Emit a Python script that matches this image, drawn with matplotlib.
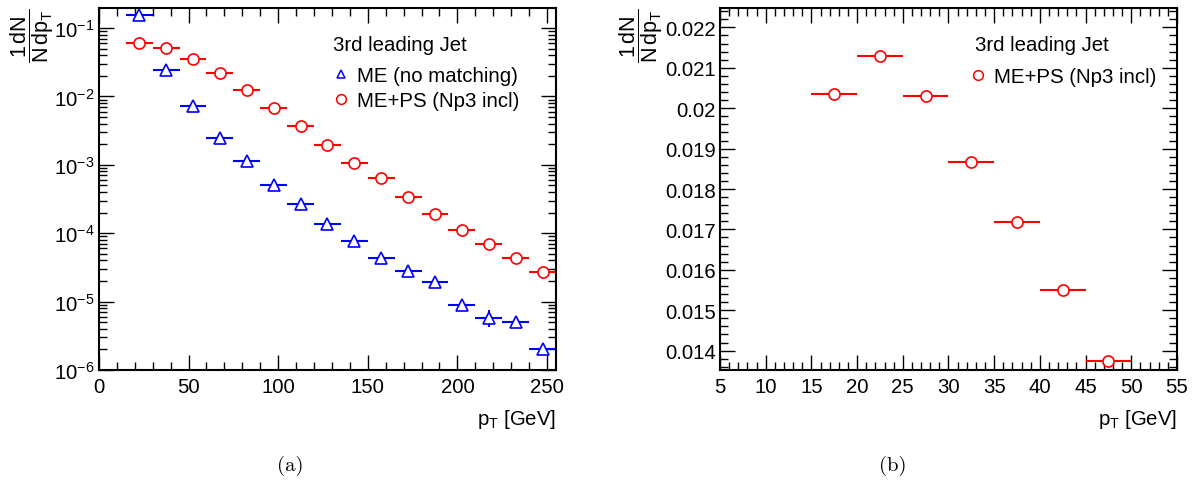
import numpy as np
import matplotlib.pyplot as plt
from matplotlib.lines import Line2D
from matplotlib.ticker import MultipleLocator, LogLocator, NullFormatter

plt.rcParams['font.family'] = ['Liberation Sans', 'DejaVu Sans']
plt.rcParams['mathtext.fontset'] = 'custom'
plt.rcParams['mathtext.rm'] = 'Liberation Sans'
plt.rcParams['mathtext.it'] = 'Liberation Sans'
plt.rcParams['mathtext.bf'] = 'Liberation Sans:bold'

# panel (a): 15 GeV bins from 15 to 255
pt_a = np.arange(22.5, 255, 15)
me = [0.155, 0.0246, 0.0072, 0.00248, 0.00113, 0.000499, 0.000263, 0.000138,
      7.7e-5, 4.35e-5, 2.77e-5, 1.94e-5, 8.95e-6, 5.83e-6, 5.05e-6, 2.06e-6]
me_err = [0.002, 0.0008, 0.0002, 6e-5, 3e-5, 1.5e-5, 1e-5, 6e-6,
          4e-6, 3e-6, 2.5e-6, 2e-6, 1.3e-6, 1.6e-6, 9e-7, 2e-7]
meps = [0.0604, 0.0505, 0.0352, 0.022, 0.0126, 0.0068, 0.00367, 0.00198,
        0.00107, 0.000646, 0.000341, 0.000193, 0.000112, 7.03e-5, 4.35e-5, 2.72e-5]
meps_err = [0.0005, 0.0004, 0.0003, 0.0002, 0.0001, 6e-5, 3e-5, 2e-5,
            1e-5, 7e-6, 4e-6, 3e-6, 2e-6, 1.5e-6, 1.2e-6, 2.5e-6]
bin_a = 7.5

# panel (b): 5 GeV bins from 15 to 50
pt_b = np.arange(17.5, 50, 5)
meps_b = [0.020345, 0.02128, 0.02030, 0.018665, 0.017186, 0.015506, 0.013737]
meps_b_err = [0.00002] * 7
bin_b = 2.5

fs = 14.7

fig = plt.figure(figsize=(12.01, 4.89), dpi=100)
ax1 = fig.add_axes([0.0824, 0.2413, 0.3805, 0.7403])
ax2 = fig.add_axes([0.5995, 0.2413, 0.3805, 0.7403])

ax1.errorbar(pt_a, me, xerr=bin_a, yerr=me_err, fmt='^', color='blue', mfc='white',
             mec='blue', ms=8, mew=1.2, elinewidth=1.5, capsize=0, label='ME (no matching)')
ax1.errorbar(pt_a, meps, xerr=bin_a, yerr=meps_err, fmt='o', color='red', mfc='white',
             mec='red', ms=8, mew=1.2, elinewidth=1.5, capsize=0, label='ME+PS (Np3 incl)')
ax1.set_yscale('log')
ax1.set_xlim(0, 255)
ax1.set_ylim(1e-6, 0.196)
ax1.xaxis.set_major_locator(MultipleLocator(50))
ax1.xaxis.set_minor_locator(MultipleLocator(10))
ax1.yaxis.set_major_locator(LogLocator(base=10, numticks=12))
ax1.yaxis.set_minor_locator(LogLocator(base=10, subs=np.arange(2, 10), numticks=12))
ax1.yaxis.set_minor_formatter(NullFormatter())

ax2.errorbar(pt_b, meps_b, xerr=bin_b, yerr=meps_b_err, fmt='o', color='red', mfc='white',
             mec='red', ms=8, mew=1.2, elinewidth=1.5, capsize=0, label='ME+PS (Np3 incl)')
ax2.set_xlim(5, 55)
ax2.set_ylim(0.01352, 0.02248)
ax2.xaxis.set_major_locator(MultipleLocator(5))
ax2.xaxis.set_minor_locator(MultipleLocator(1))
ax2.yaxis.set_major_locator(MultipleLocator(0.001))
ax2.yaxis.set_minor_locator(MultipleLocator(0.0002))
ax2.yaxis.set_major_formatter(plt.FuncFormatter(lambda v, p: ('%.3f' % v).rstrip('0')))

for ax in (ax1, ax2):
    for s in ax.spines.values():
        s.set_linewidth(1.5)
    ax.tick_params(which='both', direction='in', top=True, right=True, labelsize=fs, width=1)
    ax.tick_params(which='major', length=11)
    ax.tick_params(which='minor', length=6)
    ax.tick_params(axis='x', pad=5)
    ax.tick_params(axis='y', pad=3)
    ax.text(1.0, -0.135, r'p$_{\mathregular{T}}$ [GeV]', transform=ax.transAxes,
            ha='right', va='center', fontsize=fs)

ax1.text(-0.147, 1.0, r'$\dfrac{1\,dN}{N\,dp_{T}}$', transform=ax1.transAxes,
         rotation=90, ha='center', va='top', fontsize=15.5)
ax2.text(-0.173, 1.0, r'$\dfrac{1\,dN}{N\,dp_{T}}$', transform=ax2.transAxes,
         rotation=90, ha='center', va='top', fontsize=15.5)

# legend title drawn as text, entries below it
ax1.text(0.512, 0.898, '3rd leading Jet', transform=ax1.transAxes,
         ha='left', va='center', fontsize=fs)
h1 = [Line2D([], [], marker='^', ls='none', mfc='none', mec='blue', ms=6, mew=1.1),
      Line2D([], [], marker='o', ls='none', mfc='none', mec='red', ms=7, mew=1.1)]
ax1.legend(h1, ['ME (no matching)', 'ME+PS (Np3 incl)'],
           loc='center left', bbox_to_anchor=(0.515, 0.779), frameon=False,
           fontsize=fs, handlelength=0.7, handletextpad=0.4,
           labelspacing=0.3, borderpad=0, borderaxespad=0)

ax2.text(0.558, 0.898, '3rd leading Jet', transform=ax2.transAxes,
         ha='left', va='center', fontsize=fs)
h2 = [Line2D([], [], marker='o', ls='none', mfc='none', mec='red', ms=7, mew=1.1)]
ax2.legend(h2, ['ME+PS (Np3 incl)'],
           loc='center left', bbox_to_anchor=(0.55, 0.81), frameon=False,
           fontsize=fs, handlelength=0.7, handletextpad=0.4,
           borderpad=0, borderaxespad=0)

fig.text(290 / 1201, 1 - 466 / 489, '(a)', family='cmr10', fontsize=15, ha='center', va='center')
fig.text(893 / 1201, 1 - 466 / 489, '(b)', family='cmr10', fontsize=15, ha='center', va='center')

fig.savefig('out.png', dpi=100)
